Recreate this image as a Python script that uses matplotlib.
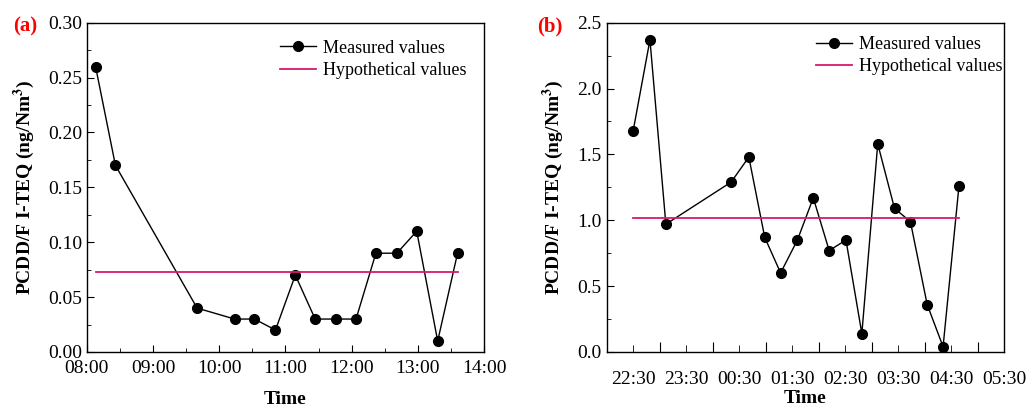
import numpy as np
import matplotlib.pyplot as plt
from matplotlib.ticker import MultipleLocator, FixedLocator, FixedFormatter, NullFormatter

# panel (a): daytime sampling
times_a = ["08:08", "08:26", "09:40", "10:14", "10:32", "10:51", "11:09", "11:27",
           "11:46", "12:04", "12:22", "12:41", "12:59", "13:18", "13:36"]
teq_a = [0.26, 0.17, 0.04, 0.03, 0.03, 0.02, 0.07, 0.03, 0.03, 0.03, 0.09, 0.09, 0.11, 0.01, 0.09]
hyp_a = 0.073
ticks_a = ["08:00", "09:00", "10:00", "11:00", "12:00", "13:00", "14:00"]

# panel (b): night sampling
times_b = ["22:30", "22:49", "23:07", "00:21", "00:41", "00:59", "01:17", "01:36", "01:54",
           "02:12", "02:31", "02:49", "03:07", "03:26", "03:44", "04:03", "04:21", "04:39"]
teq_b = [1.68, 2.37, 0.97, 1.29, 1.48, 0.87, 0.60, 0.85, 1.17,
         0.77, 0.85, 0.14, 1.58, 1.09, 0.99, 0.36, 0.04, 1.26]
hyp_b = 1.02
ticks_b = ["22:30", "23:30", "00:30", "01:30", "02:30", "03:30", "04:30", "05:30"]

plt.rcParams["font.family"] = ["Liberation Serif", "DejaVu Serif"]
plt.rcParams["mathtext.fontset"] = "stix"

MAGENTA = "#d8196e"


def to_hours(t, start):
    h, m = map(int, t.split(":"))
    v = h + m / 60.0
    if v < start:
        v += 24
    return v


def style_axes(ax):
    for s in ax.spines.values():
        s.set_linewidth(1.0)
    ax.tick_params(which="both", direction="in", top=False, right=False, labelsize=14)
    ax.tick_params(which="major", length=5)
    ax.tick_params(which="minor", length=3)


fig = plt.figure(figsize=(10.29, 4.09), dpi=100)
ax_a = fig.add_axes([0.0843, 0.1394, 0.3861, 0.8051])
ax_b = fig.add_axes([0.5896, 0.1394, 0.3861, 0.8051])

for ax, times, teq, hyp, start in [(ax_a, times_a, teq_a, hyp_a, 8), (ax_b, times_b, teq_b, hyp_b, 12)]:
    x = np.array([to_hours(t, start) for t in times])
    ax.plot(x, teq, "-o", color="black", lw=1.0, ms=7, label="Measured values")
    ax.plot([x[0], x[-1]], [hyp, hyp], color=MAGENTA, lw=1.3, label="Hypothetical values")
    style_axes(ax)
    ax.set_xlabel("Time", fontsize=14, fontweight="bold")
    ax.set_ylabel("PCDD/F I-TEQ (ng/Nm$^\\mathbf{3}$)", fontsize=14, fontweight="bold", labelpad=8)

# panel (a) axes
ax_a.set_xlim(8, 14)
ax_a.set_ylim(0, 0.30)
ax_a.xaxis.set_major_locator(FixedLocator(np.arange(8, 15)))
ax_a.xaxis.set_major_formatter(FixedFormatter(ticks_a))
ax_a.xaxis.set_minor_locator(MultipleLocator(0.5))
ax_a.yaxis.set_major_locator(MultipleLocator(0.05))
ax_a.yaxis.set_minor_locator(MultipleLocator(0.025))
ax_a.yaxis.set_major_formatter(plt.FuncFormatter(lambda v, p: f"{v:.2f}"))
ax_a.tick_params(axis="x", which="major", pad=6)
ax_a.xaxis.labelpad = 10

# panel (b) axes: labels sit on the half hours
ax_b.set_xlim(22, 29.5)
ax_b.set_ylim(0, 2.5)
ax_b.xaxis.set_major_locator(FixedLocator(np.arange(23, 30)))
ax_b.xaxis.set_major_formatter(NullFormatter())
ax_b.xaxis.set_minor_locator(FixedLocator(np.arange(22.5, 30, 1.0)))
ax_b.xaxis.set_minor_formatter(FixedFormatter(ticks_b))
ax_b.tick_params(axis="x", which="minor", length=5, pad=14, labelsize=14)
ax_b.tick_params(axis="x", which="major", length=7)
ax_b.yaxis.set_major_locator(MultipleLocator(0.5))
ax_b.yaxis.set_minor_locator(MultipleLocator(0.25))
ax_b.yaxis.set_major_formatter(plt.FuncFormatter(lambda v, p: f"{v:.1f}"))
ax_b.xaxis.labelpad = 1

for ax, tag, lx, ly, tx in [(ax_a, "(a)", 0.467, 0.97, -0.185), (ax_b, "(b)", 0.508, 0.982, -0.175)]:
    ax.legend(loc="upper left", bbox_to_anchor=(lx, ly), frameon=False, fontsize=13,
              handlelength=2.0, handletextpad=0.4, labelspacing=0.3, numpoints=1,
              borderaxespad=0)
    ax.text(tx, 0.987, tag, transform=ax.transAxes, color="red", fontsize=15,
            fontweight="bold", va="center", ha="left")

fig.savefig("out.png", dpi=100)
